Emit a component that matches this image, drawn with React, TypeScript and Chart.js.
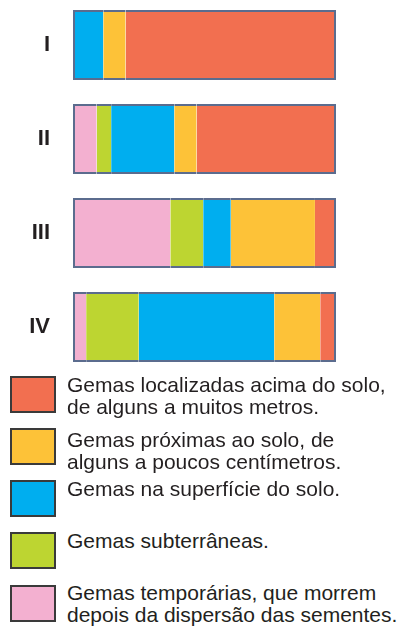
import React, { useEffect, useRef } from "react";
import { Chart, registerables } from "chart.js";

Chart.register(...registerables);

const categories = ["I", "II", "III", "IV"];
const temporarias = [0, 9, 37, 5];
const subterraneas = [0, 5.5, 12.5, 20];
const superficie = [11.5, 24, 10.5, 51.5];
const proximas = [8.5, 8.5, 32, 17.5];
const acima = [80, 53, 8, 6];

const seriesLabels = [
  ["Gemas temporárias, que morrem", "depois da dispersão das sementes."],
  ["Gemas subterrâneas."],
  ["Gemas na superfície do solo."],
  ["Gemas próximas ao solo, de", "alguns a poucos centímetros."],
  ["Gemas localizadas acima do solo,", "de alguns a muitos metros."],
];
const seriesColors = ["#F3B0D0", "#BDD531", "#00AEEF", "#FDC238", "#F26F50"];
const allSeries = [temporarias, subterraneas, superficie, proximas, acima];

// legend order (top to bottom) as series indices
const legendOrder = [4, 3, 2, 1, 0];
const legendBoxTops = [376, 428, 480, 532, 585];
const legendTextTops = [374, 429, 478, 530, 582];

const FONT = '"Liberation Sans", Arial, sans-serif';

export default function App() {
  const canvasRef = useRef<HTMLCanvasElement | null>(null);

  useEffect(() => {
    const canvas = canvasRef.current;
    if (!canvas) return;
    const borderFor = (dsIndex: number) => (ctx: any) => {
      const i = ctx.dataIndex;
      let first = -1;
      let last = -1;
      allSeries.forEach((s, k) => {
        if (s[i] > 0) {
          if (first < 0) first = k;
          last = k;
        }
      });
      return {
        top: 2,
        bottom: 2,
        left: dsIndex === first ? 2 : 0,
        right: dsIndex === last ? 2 : 0,
      };
    };
    const chart = new Chart(canvas, {
      type: "bar",
      data: {
        labels: categories,
        datasets: allSeries.map((s, k) => ({
          label: seriesLabels[k].join(" "),
          data: s,
          backgroundColor: seriesColors[k],
          borderColor: "#5B6C8E",
          borderWidth: borderFor(k) as any,
          borderSkipped: false,
          barThickness: 70,
          inflateAmount: 0,
        })),
      },
      options: {
        indexAxis: "y",
        animation: false,
        responsive: false,
        maintainAspectRatio: false,
        layout: { autoPadding: false, padding: { left: 0, right: 67, top: 0, bottom: 0 } },
        plugins: { legend: { display: false }, tooltip: { enabled: false } },
        scales: {
          x: { display: false, stacked: true, min: 0, max: 100 },
          y: {
            stacked: true,
            grid: { display: false, drawTicks: false },
            border: { display: false },
            afterFit: (scale: any) => {
              scale.width = 73;
              scale.paddingTop = 0;
              scale.paddingBottom = 0;
            },
            ticks: {
              padding: 23,
              color: "#231f20",
              font: { family: FONT, size: 22, weight: "bold" },
            },
          },
        },
      },
    });
    return () => chart.destroy();
  }, []);

  return (
    <div
      style={{
        position: "absolute",
        left: 0,
        top: 0,
        width: 403,
        height: 630,
        overflow: "hidden",
        background: "#fff",
        fontFamily: FONT,
      }}
    >
      <canvas
        ref={canvasRef}
        width={403}
        height={376}
        style={{ position: "absolute", left: 0, top: -2, width: 403, height: 376 }}
      />
      {legendOrder.map((k, j) => (
        <React.Fragment key={k}>
          <div
            style={{
              position: "absolute",
              left: 10,
              top: legendBoxTops[j],
              width: 46,
              height: 37,
              boxSizing: "border-box",
              border: "2px solid #3a3a3a",
              background: seriesColors[k],
            }}
          />
          <div
            style={{
              position: "absolute",
              left: 67,
              top: legendTextTops[j],
              fontSize: 21,
              lineHeight: "22px",
              color: "#231f20",
              whiteSpace: "nowrap",
            }}
          >
            {seriesLabels[k].map((line, n) => (
              <div key={n}>{line}</div>
            ))}
          </div>
        </React.Fragment>
      ))}
    </div>
  );
}
